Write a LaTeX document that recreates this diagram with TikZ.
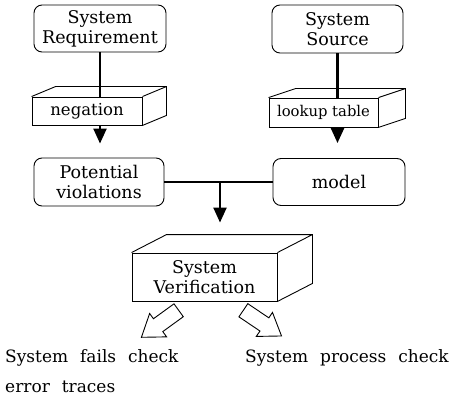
\documentclass[tikz,border=0pt]{standalone}
\usepackage{fontspec}
\setmainfont{DejaVu Serif}
\usetikzlibrary{arrows.meta,shapes.arrows}

% back faces of a flat 3d box drawn behind a front node
\newcommand\slab[3]{\draw[line width=0.9pt] (#1.north west) -- ++(#2,#3) -- ([shift={(#2,#3)}]#1.north east) -- ([shift={(#2,#3)}]#1.south east) -- (#1.south east) (#1.north east) -- ++(#2,#3);}
% wider gaps between words in the outcome texts
\newcommand\widegap{\spaceskip 12pt\relax}

\begin{document}
\begin{tikzpicture}[x=1pt,y=-1pt,
    rbox/.style={draw,line width=0.9pt,rounded corners=8pt,align=center,inner sep=0pt,
      font=\fontsize{17.5}{20}\selectfont},
    front/.style={draw,line width=0.9pt,align=center,inner sep=0pt},
    flow/.style={line width=2.3pt,-{Triangle[length=15pt,width=13pt]}},
    link/.style={line width=2.3pt},
    hollow/.style={single arrow,draw,line width=0.9pt,minimum height=46pt,inner sep=7.5pt,
      single arrow head extend=6.5pt,single arrow tip angle=70},
    note/.style={anchor=west,inner sep=0pt,font=\fontsize{17}{20}\selectfont\widegap}]
  \useasboundingbox (0,0) rectangle (457,398);
  % top row
  \node (req) [rbox,minimum width=132pt,minimum height=47pt] at (100,28.5) {System\\Requirement};
  \node (src) [rbox,minimum width=131pt,minimum height=48pt] at (337.5,29) {System\\Source};
  % slabs
  \node (neg) [front,minimum width=110pt,minimum height=28pt,font=\fontsize{16.5}{20}\selectfont] at (87,111) {negation};
  \slab{neg}{24}{-10}
  \node (lut) [front,minimum width=109pt,minimum height=29pt,font=\fontsize{14.8}{18}\selectfont] at (323.5,112.5) {lookup table};
  \slab{lut}{27}{-9}
  % middle row
  \node (pot) [rbox,minimum width=130pt,minimum height=48pt] at (99,182) {Potential\\violations};
  \node (mod) [rbox,minimum width=132pt,minimum height=47pt] at (339,182) {model};
  % verification
  \node (ver) [front,minimum width=145pt,minimum height=48pt,font=\fontsize{17.5}{20}\selectfont] at (204.5,277) {System\\Verification};
  \slab{ver}{35}{-18}
  % connectors
  \draw[link] (req.south) -- (req.south |- neg.north);
  \draw[flow,shorten >=14pt] (req.south |- neg.south) -- (req.south |- pot.north);
  \draw[link] (src.south) -- (src.south |- lut.north);
  \draw[flow,shorten >=15pt] (src.south |- lut.south) -- (src.south |- mod.north);
  \draw[line width=2pt] (pot.east) -- (mod.west);
  \coordinate (join) at (220,182);
  \draw[flow,shorten >=30pt] (join) -- (join |- ver.north);
  % outcomes
  \node (fa) [hollow,rotate=216,anchor=tail] at (179,310) {};
  \node (pa) [hollow,rotate=-34,anchor=tail] at (243,310) {};
  \node (fail) [note] at (5,358) {System fails check};
  \node (trace) [note] at (5,387) {error traces};
  \node (pass) [note] at (245,358) {System process check};
\end{tikzpicture}
\end{document}
